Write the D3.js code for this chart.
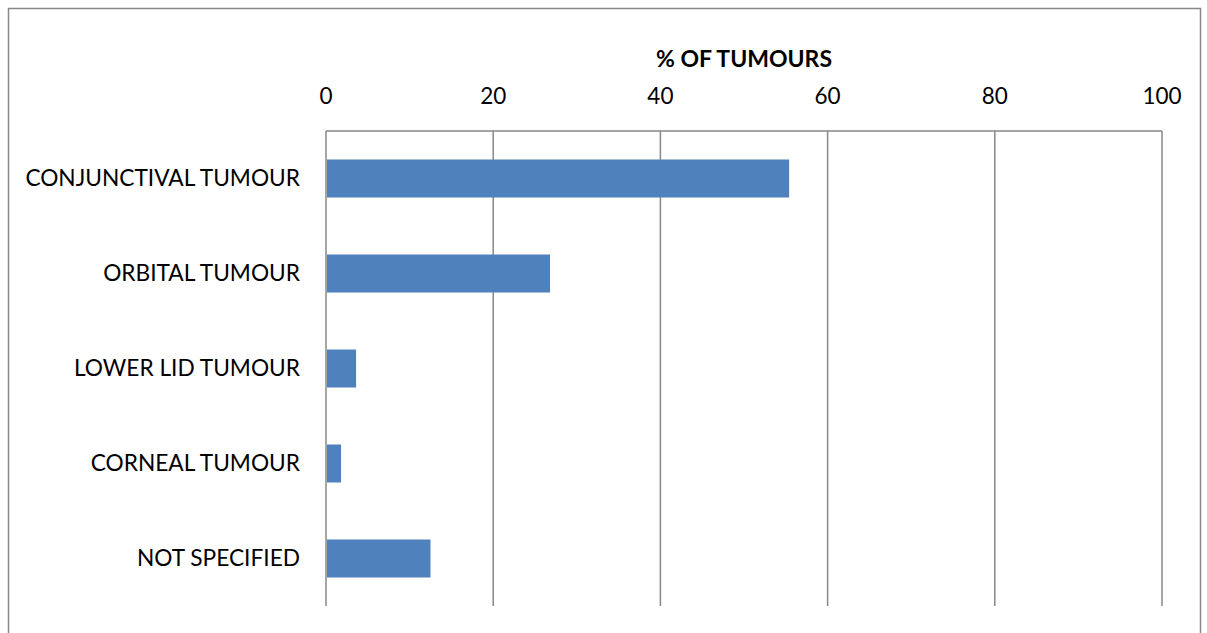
<!DOCTYPE html>
<html>
<head>
<meta charset="utf-8">
<script src="https://d3js.org/d3.v7.min.js"></script>
<style>
  body { margin: 0; background: #fff; }
  svg { display: block; font-family: Lato, "Open Sans", sans-serif; }
</style>
</head>
<body>
<svg id="chart"></svg>
<script>
// data
var categories = ["CONJUNCTIVAL TUMOUR", "ORBITAL TUMOUR", "LOWER LID TUMOUR", "CORNEAL TUMOUR", "NOT SPECIFIED"];
var values = [55.4, 26.8, 3.6, 1.8, 12.5];
var ticks = [0, 20, 40, 60, 80, 100];
var axisTitle = "% OF TUMOURS";

var W = 1207, H = 633;
var m = {top: 131, right: 45, bottom: 27, left: 326};

var svg = d3.select("#chart").attr("width", W).attr("height", H);

// outer chart frame (bottom edge runs off the picture)
svg.append("rect")
    .attr("x", 8.5).attr("y", 8.5)
    .attr("width", 1192).attr("height", 660)
    .attr("fill", "none")
    .attr("stroke", "#888")
    .attr("stroke-width", 1.5);

var x = d3.scaleLinear().domain([0, 100]).range([m.left, W - m.right]);
var y = d3.scaleBand().domain(categories).range([m.top, H - m.bottom])
    .paddingInner(0.6).paddingOuter(0.3);

// grid lines
svg.append("g").selectAll("line")
    .data(ticks)
    .enter().append("line")
    .attr("x1", d => x(d)).attr("x2", d => x(d))
    .attr("y1", m.top).attr("y2", H - m.bottom)
    .style("stroke", "#878787")
    .style("stroke-width", 1.5);

svg.append("line")
    .attr("x1", x(0)).attr("x2", x(100))
    .attr("y1", m.top).attr("y2", m.top)
    .style("stroke", "#878787")
    .style("stroke-width", 1.5);

// bars
svg.append("g").selectAll("rect")
    .data(values)
    .enter().append("rect")
    .attr("x", x(0) + 1)
    .attr("y", (d, i) => y(categories[i]))
    .attr("width", d => x(d) - x(0) - 1)
    .attr("height", y.bandwidth())
    .attr("fill", "#4f81bd");

// top axis labels
svg.append("g").selectAll("text")
    .data(ticks)
    .enter().append("text")
    .attr("x", d => x(d))
    .attr("y", 104)
    .attr("text-anchor", "middle")
    .style("font-size", "22.5px")
    .text(d => d);

svg.append("text")
    .attr("x", (x(0) + x(100)) / 2)
    .attr("y", 67)
    .attr("text-anchor", "middle")
    .style("font-size", "23px")
    .style("font-weight", "bold")
    .text(axisTitle);

// category labels
svg.append("g").selectAll("text")
    .data(categories)
    .enter().append("text")
    .attr("x", 300)
    .attr("y", d => y(d) + y.bandwidth() / 2)
    .attr("dy", "0.35em")
    .attr("text-anchor", "end")
    .style("font-size", "22.7px")
    .text(d => d);
</script>
</body>
</html>
